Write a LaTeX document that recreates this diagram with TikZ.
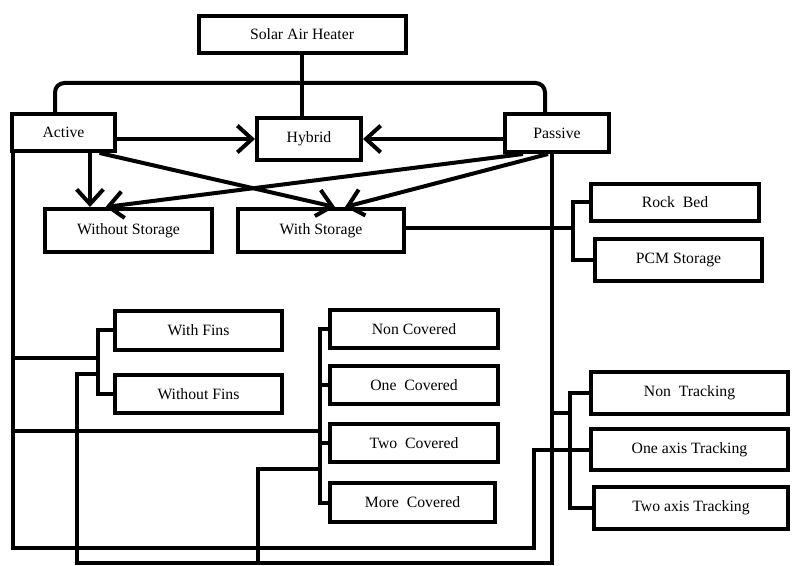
\documentclass[tikz,border=0pt]{standalone}
\usepackage{fontspec}
\setmainfont{Liberation Serif}
\usetikzlibrary{arrows.meta, calc, shadows}

\begin{document}
\begin{tikzpicture}[
        x=0.75pt, y=-0.75pt,
        box/.style 2 args={rectangle, draw=black, fill=white, line width=3pt, align=center, inner sep=0pt,
            font=\fontsize{11.8}{14}\selectfont, minimum width=#1*0.75pt, minimum height=#2*0.75pt,
            drop shadow={shadow xshift=1pt, shadow yshift=-1pt, opacity=0.35}},
        link/.style={line width=3pt},
        arrow/.style={link, -{Straight Barb[length=11pt, width=20pt]}}
    ]
        \useasboundingbox (0,0) rectangle (792,566);

        % boxes
        \node[box={207}{37}] (sah) at (302,34.5) {Solar Air Heater};
        \node[box={103}{37}] (active) at (63.5,132.5) {Active};
        \node[box={104}{42}] (hybrid) at (309,139) {Hybrid};
        \node[box={104}{38}] (passive) at (557,133) {Passive};
        \node[box={167}{43}] (wos) at (128.5,230.5) {Without Storage};
        \node[box={166}{43}] (ws) at (321,230.5) {With Storage};
        \node[box={168}{37}] (rock) at (675,202.5) {Rock\ \ Bed};
        \node[box={167}{42}] (pcm) at (678.5,260) {PCM Storage};
        \node[box={167}{39}] (fins) at (198.5,330.5) {With Fins};
        \node[box={167}{38}] (nofins) at (198.5,394) {Without Fins};
        \node[box={168}{38}] (nonc) at (414,329) {Non Covered};
        \node[box={168}{38}] (onec) at (414,385) {One\ \ Covered};
        \node[box={168}{38}] (twoc) at (414,443) {Two\ \ Covered};
        \node[box={165}{39}] (morec) at (412.5,502.5) {More\ \ Covered};
        \node[box={197}{42}] (nont) at (689.5,393) {Non\ \ Tracking};
        \node[box={197}{41}] (onet) at (689.5,449.5) {One axis Tracking};
        \node[box={194}{42}] (twot) at (691,508) {Two axis Tracking};

        % junctions
        \coordinate (top) at (302,83);
        \coordinate (sb) at (573,228);
        \coordinate (fb) at (98,358);
        \coordinate (fj) at (98,374);
        \coordinate (cb) at (320,431);
        \coordinate (cj) at (320,469);
        \coordinate (tj) at (570,413);
        \coordinate (oj) at (534,449.5);
        \coordinate (lb) at (13,548);
        \coordinate (rb) at (552,563);
        \coordinate (k1) at (77,374);
        \coordinate (k2) at (258,469);
        \coordinate (adown) at ($(active.south)+(26.5,0)$);

        % top level
        \draw[link, rounded corners=7pt] ($(active.north)+(-8.5,0)$) |- (top) -| ($(passive.north)+(-12,0)$);
        \draw[link] (sah.south) -- (sah.south |- hybrid.north);
        \draw[arrow] (active.east |- hybrid.west) -- (hybrid.west);
        \draw[arrow] (passive.west |- hybrid.east) -- (hybrid.east);
        \draw[arrow] (adown) -- (adown |- wos.north);
        \draw[arrow] ($(active.south)+(36,0)$) -- ($(ws.north)+(14,0)$);
        \draw[arrow] ($(passive.south)+(-34,0)$) -- ($(wos.north)+(-23,0)$);
        \draw[arrow] ($(passive.south)+(-9,0)$) -- ($(ws.north)+(24,0)$);

        % storage
        \draw[link] (ws.east |- sb) -- (sb);
        \draw[link] (rock.west) -| (sb) |- (pcm.west);

        % left trunk
        \draw[link] (lb |- active.south) -- (lb) -| (oj) -- (onet.west);
        \draw[link] (lb |- fb) -- (fb);
        \draw[link] (lb |- cb) -- (cb);

        % right trunk
        \draw[link] (passive.south -| rb) -- (rb) -| (k1) -- (fj);
        \draw[link] (k2 |- rb) -- (k2) -- (cj);
        \draw[link] (tj -| rb) -- (tj);

        % brackets
        \draw[link] (fins.west) -| (fb) |- (nofins.west);
        \draw[link] (nonc.west) -| (cb) |- (morec.west);
        \draw[link] (onec.west) -- (onec.west -| cb);
        \draw[link] (twoc.west) -- (twoc.west -| cb);
        \draw[link] (nont.west) -| (tj) |- (twot.west);
    \end{tikzpicture}
\end{document}
